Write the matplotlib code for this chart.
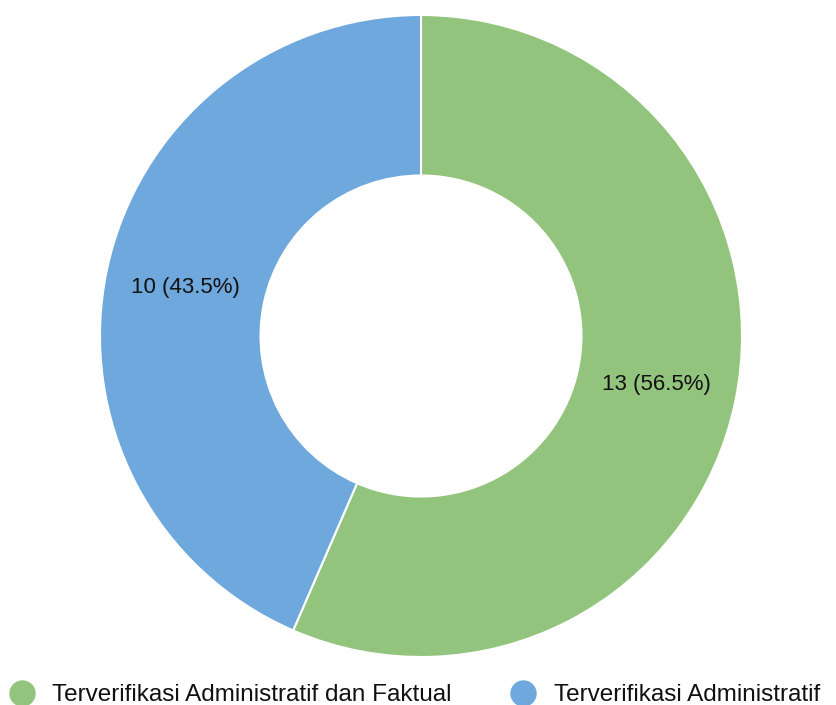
import numpy as np
import matplotlib.pyplot as plt
from matplotlib.lines import Line2D

plt.rcParams['font.family'] = ['Liberation Sans', 'DejaVu Sans']

labels = ['Terverifikasi Administratif dan Faktual', 'Terverifikasi Administratif']
counts = [13, 10]
colors = ['#93c47d', '#6fa8dc']

total = sum(counts)

fig = plt.figure(figsize=(8.37, 7.05), dpi=100)
ax = fig.add_axes([100 / 837, 48 / 705, 642 / 837, 642 / 705])

wedges, _ = ax.pie(counts, colors=colors, startangle=90, counterclock=False,
                   radius=1.0, wedgeprops=dict(width=0.5, edgecolor='white', linewidth=1.5))

# labels sit in the middle of the ring
for w, c in zip(wedges, counts):
    ang = np.deg2rad((w.theta1 + w.theta2) / 2)
    ax.text(0.75 * np.cos(ang), 0.75 * np.sin(ang), f'{c} ({c / total * 100:.1f}%)',
            ha='center', va='center', fontsize=16, color='#111111')

ax.set_xlim(-1, 1)
ax.set_ylim(-1, 1)
ax.set_aspect('equal')
ax.axis('off')

handles = [Line2D([], [], marker='o', linestyle='none', markersize=18,
                  markerfacecolor=c, markeredgecolor=c) for c in colors]
fig.legend(handles, labels, loc='center left', bbox_to_anchor=(10 / 837, 0.014),
           ncol=2, frameon=False, fontsize=17.5, handlelength=1.0,
           handletextpad=0.74, columnspacing=2.45, borderaxespad=0, borderpad=0,
           labelcolor='#111111')

fig.savefig('out.png', dpi=100)
